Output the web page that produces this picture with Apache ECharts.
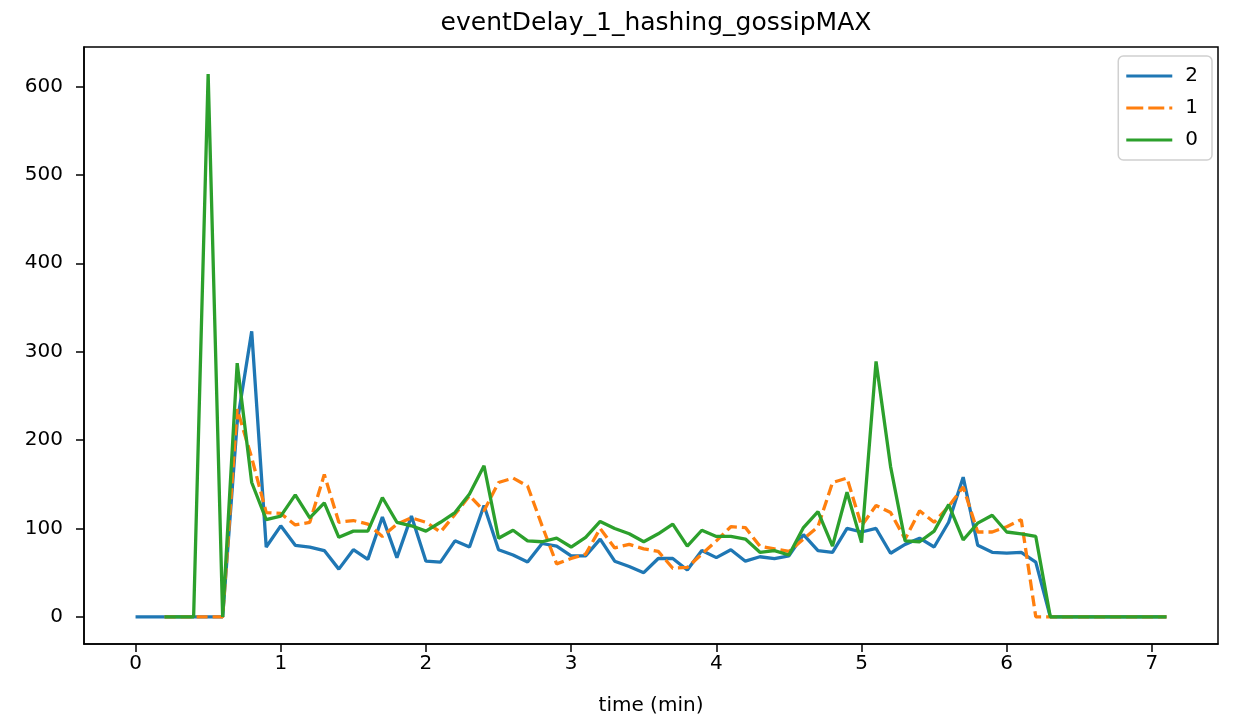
<!DOCTYPE html>
<html>
<head>
<meta charset="utf-8">
<script src="https://cdn.jsdelivr.net/npm/echarts@6/dist/echarts.min.js"></script>
<style>html,body{margin:0;padding:0;background:#fff;}#c{width:1237px;height:721px;}</style>
</head>
<body>
<div id="c"></div>
<script>
var times = [0.0,0.1,0.2,0.3,0.4,0.5,0.6,0.7,0.8,0.9,1.0,1.1,1.2,1.3,1.4,1.5,1.6,1.7,1.8,1.9,
  2.0,2.1,2.2,2.3,2.4,2.5,2.6,2.7,2.8,2.9,3.0,3.1,3.2,3.3,3.4,3.5,3.6,3.7,3.8,3.9,
  4.0,4.1,4.2,4.3,4.4,4.5,4.6,4.7,4.8,4.9,5.0,5.1,5.2,5.3,5.4,5.5,5.6,5.7,5.8,5.9,
  6.0,6.1,6.2,6.3,6.4,6.5,6.6,6.7,6.8,6.9,7.0,7.1];

var series2 = [0,0,0,0,0,0,0,220,323,79,103,81,79,75,54,76,65,113,67,114,
  63,62,86,79,126,76,70,62,83,80,69,69,88,63,57,50,66,66,53,75,
  67,76,63,68,66,69,93,75,73,100,96,100,72,82,89,79,107,158,81,73,
  72,73,62,0,0,0,0,0,0,0,0,0];

var series1 = [null,null,0,0,0,0,0,235,180,118,117,104,107,161,107,109,105,91,105,112,
  107,96,116,137,120,152,157,148,103,60,66,71,100,78,82,77,74,55,56,71,
  86,102,101,80,77,74,88,102,152,157,103,126,118,88,120,107,125,147,96,96,
  102,110,0,0,0,0,0,0,0,0,0,0];

var series0 = [null,null,0,0,0,614,0,287,152,110,114,138,112,129,90,97,97,135,107,103,
  97,107,118,139,171,89,98,86,85,89,79,90,108,100,94,85,94,105,80,98,
  91,91,88,73,75,70,101,119,80,141,84,289,170,86,85,97,127,87,106,115,
  96,94,91,0,0,0,0,0,0,0,0,0];

var xTicks = [0,1,2,3,4,5,6,7];
var yTicks = [0,100,200,300,400,500,600];
var seriesNames = ['2','1','0'];

function pairs(vals){
  var out = [];
  for (var i = 0; i < times.length; i++) out.push([times[i], vals[i]]);
  return out;
}

var FONT = 'DejaVu Sans';
var solidIcon = 'path://M0,0h46v3h-46z';
var dashIcon = 'path://M0,0h17v3h-17z M22,0h16v3h-16z M43,0h3v3h-3z';

var chart = echarts.init(document.getElementById('c'), null, {renderer:'canvas'});
chart.setOption({
  animation: false,
  backgroundColor: '#fff',
  title: {
    text: 'eventDelay_1_hashing_gossipMAX',
    left: 651, top: 6, textAlign: 'center',
    textStyle: {fontFamily: FONT, fontSize: 25, fontWeight: 'normal', color: '#000'}
  },
  legend: {
    data: [
      {name: seriesNames[0], icon: solidIcon},
      {name: seriesNames[1], icon: dashIcon},
      {name: seriesNames[2], icon: solidIcon}
    ],
    orient: 'vertical',
    right: 25, top: 56,
    itemWidth: 46, itemHeight: 3, itemGap: 12,
    padding: [10, 14, 10, 8],
    borderColor: '#d0d0d0', borderWidth: 1.5, borderRadius: 5,
    backgroundColor: 'rgba(255,255,255,0.8)',
    textStyle: {fontFamily: FONT, fontSize: 20, color: '#000', padding: [0,0,0,8], lineHeight: 20}
  },
  grid: {
    left: 84, right: 19, top: 47, bottom: 76,
    show: true, borderColor: '#000', borderWidth: 1.5, backgroundColor: 'transparent'
  },
  xAxis: {
    type: 'value', min: -0.355, max: 7.455,
    name: 'time (min)', nameLocation: 'middle', nameGap: 52,
    nameTextStyle: {fontFamily: FONT, fontSize: 20, color: '#000'},
    axisLine: {show: true, onZero: false, lineStyle: {color: '#000', width: 1.5}},
    axisTick: {show: true, customValues: xTicks, length: 8, lineStyle: {color: '#000', width: 1.5}},
    axisLabel: {customValues: xTicks, fontFamily: FONT, fontSize: 20, color: '#000', margin: 10},
    splitLine: {show: false}
  },
  yAxis: {
    type: 'value', min: -30.7, max: 644.7,
    axisLine: {show: true, onZero: false, lineStyle: {color: '#000', width: 1.5}},
    axisTick: {show: true, customValues: yTicks, length: 8, lineStyle: {color: '#000', width: 1.5}},
    axisLabel: {customValues: yTicks, fontFamily: FONT, fontSize: 20, color: '#000', margin: 21},
    splitLine: {show: false}
  },
  series: [
    {name: '2', type: 'line', data: pairs(series2), symbol: 'none',
     lineStyle: {color: '#1f77b4', width: 3.3}, itemStyle: {color: '#1f77b4'}},
    {name: '1', type: 'line', data: pairs(series1), symbol: 'none',
     lineStyle: {color: '#ff7f0e', width: 3.3, type: [11, 5]}, itemStyle: {color: '#ff7f0e'}},
    {name: '0', type: 'line', data: pairs(series0), symbol: 'none',
     lineStyle: {color: '#2ca02c', width: 3.3}, itemStyle: {color: '#2ca02c'}}
  ]
});
</script>
</body>
</html>
